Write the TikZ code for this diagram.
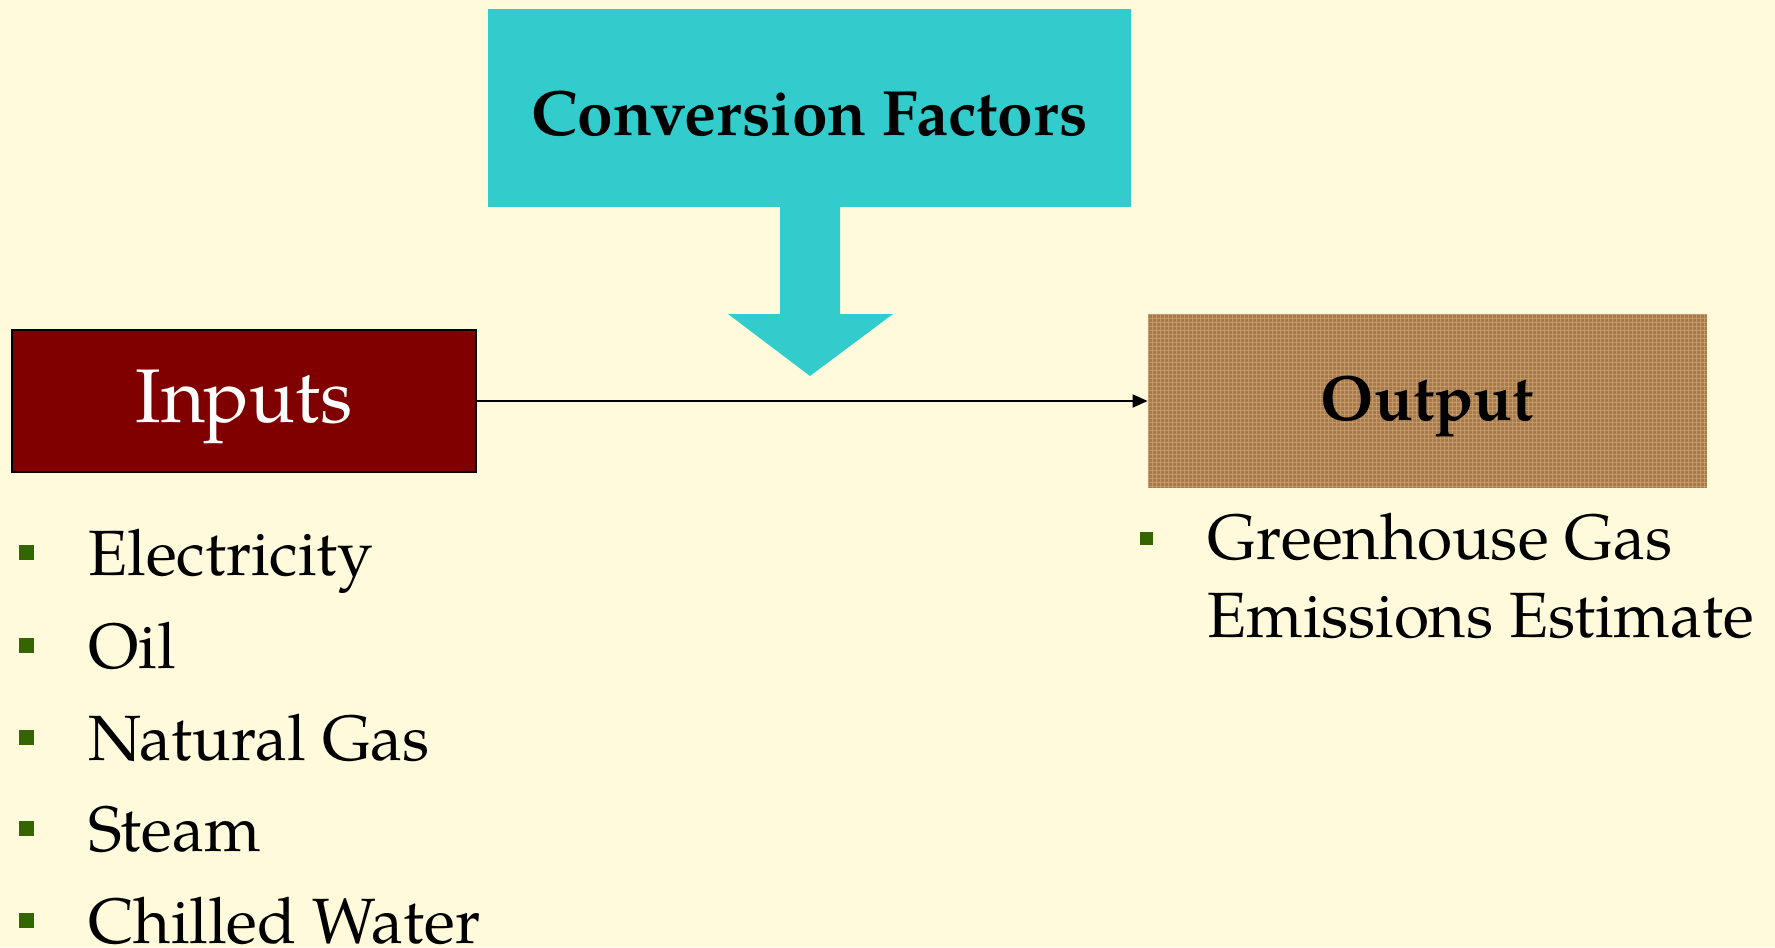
\documentclass[tikz,border=0pt]{standalone}
\usepackage{fontspec}
\setmainfont{TeX Gyre Pagella}
\usetikzlibrary{arrows.meta}
\definecolor{bgcream}{RGB}{255,250,220}
\definecolor{cfcyan}{RGB}{51,204,204}
\definecolor{inred}{RGB}{128,0,0}
\definecolor{outbrown}{RGB}{168,122,74}
\definecolor{outlight}{RGB}{204,164,116}
\definecolor{bulletgreen}{RGB}{51,102,0}
\tikzset{
  boxbase/.style={inner sep=0pt, align=center},
  itemtext/.style={anchor=base west, inner sep=0pt, font=\fontsize{32}{39}\selectfont},
  bulletsq/.style={fill=bulletgreen, minimum size=7.5pt, inner sep=0pt},
  bulletsm/.style={fill=bulletgreen, minimum size=6.5pt, inner sep=0pt},
}
\begin{document}
\begin{tikzpicture}[x=0.5pt,y=-0.5pt]
\useasboundingbox[fill=bgcream] (0,0) rectangle (1775,947);
% Conversion factors box
\node[boxbase, fill=cfcyan, minimum width=321.5pt, minimum height=99pt] (cf) at (809.5,108) {};
\node[inner sep=0pt, font=\fontsize{32}{38}\selectfont\bfseries] (cflabel) at ([yshift=-3pt]cf.center) {Conversion Factors};
% block arrow
\fill[cfcyan] (780,206) -- (840,206) -- (840,314) -- (893,314) -- (810,376)
  -- (728,314) -- (780,314) -- cycle;
% Inputs box
\node[boxbase, fill=inred, draw=black, line width=1pt, minimum width=232pt, minimum height=71pt] (inputs) at (244,401) {};
\node[inner sep=0pt, text=white, font=\fontsize{38}{44}\selectfont] (inlabel) at ([yshift=-3pt]inputs.center) {Inputs};
% Output box with texture
\node[boxbase, fill=outbrown, minimum width=279.5pt, minimum height=87pt] (output) at (1427.5,401) {};
\begin{scope}
\clip (output.south west) rectangle (output.north east);
\foreach \i in {0,4,...,560} {
  \draw[outlight, line width=0.45pt, opacity=0.7] (1148+\i,314) -- (1148+\i,488);
}
\foreach \j in {0,4,...,176} {
  \draw[outlight, line width=0.45pt, opacity=0.7] (1148,314+\j) -- (1707,314+\j);
}
\end{scope}
\node[inner sep=0pt, font=\fontsize{32}{38}\selectfont\bfseries] (outlabel) at ([yshift=-3pt]output.center) {Output};
% connector
\draw[line width=1pt, -{Triangle[length=7.5pt,width=6.5pt]}] (inputs.east) -- (output.west);
% left list
\node[itemtext] (i1) at (88,575) {Electricity};
\node[itemtext] (i2) at (88,668) {Oil};
\node[itemtext] (i3) at (88,760) {Natural Gas};
\node[itemtext] (i4) at (88,851) {Steam};
\node[itemtext] (i5) at (88,943) {Chilled Water};
\node[bulletsq] (b1) at (26.5,552) {};
\node[bulletsq] (b2) at (26.5,645) {};
\node[bulletsq] (b3) at (26.5,737) {};
\node[bulletsq] (b4) at (26.5,828) {};
\node[bulletsq] (b5) at (26.5,920) {};
% right list
\node[itemtext] (o1) at (1207,559) {Greenhouse Gas};
\node[itemtext] (o2) at (1207,637) {Emissions Estimate};
\node[bulletsm] (ob1) at (1146,538) {};
\end{tikzpicture}
\end{document}
